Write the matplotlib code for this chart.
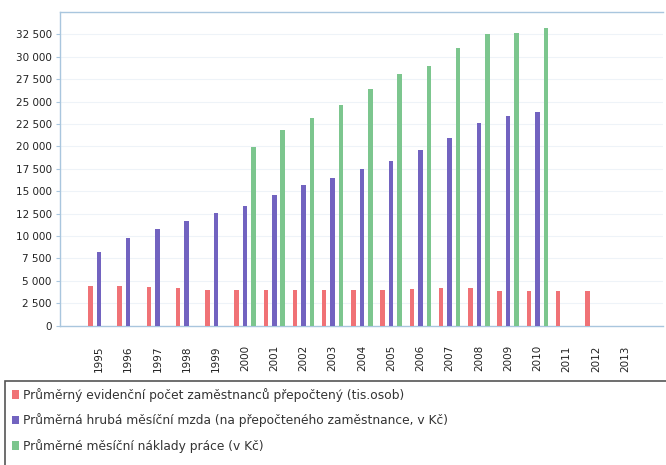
import numpy as np
import matplotlib
matplotlib.use("Agg")
import matplotlib.pyplot as plt
from matplotlib.ticker import FuncFormatter
from matplotlib.patches import Rectangle

years = [str(y) for y in range(1995, 2014)]
nan = np.nan
employees = [4430, 4430, 4290, 4180, 3990, 3980, 3970, 3960, 3960, 3970, 3980, 4060, 4170, 4240,
             3880, 3870, 3870, 3870, nan]
wage = [8260, 9750, 10760, 11720, 12610, 13360, 14590, 15670, 16430, 17470, 18340, 19550,
        20960, 22590, 23400, 23880, nan, nan, nan]
labour_cost = [nan, nan, nan, nan, nan, 19980, 21840, 23210, 24630, 26380, 28090, 28980,
               31030, 32560, 32700, 33260, nan, nan, nan]
labels = ["Průměrný evidenční počet zaměstnanců přepočtený (tis.osob)",
          "Průměrná hrubá měsíční mzda (na přepočteného zaměstnance, v Kč)",
          "Průměrné měsíční náklady práce (v Kč)"]
colors = ["#f07276", "#7263c0", "#7cc68e"]

fig = plt.figure(figsize=(6.66, 4.65), dpi=100)
ax = fig.add_axes([60/666, 1-325.7/465, (663-60)/666, (325.7-12)/465])

x = np.arange(len(years))
w = 0.155
off = 0.29
handles = []
for i, (vals, c) in enumerate(zip([employees, wage, labour_cost], colors)):
    b = ax.bar(x + (i-1)*off, vals, width=w, color=c, edgecolor="none", zorder=3)
    handles.append(b)

ax.set_xlim(-1.33, len(years) - 1 + 1.3)
ax.set_ylim(0, 35000)
ax.set_yticks(np.arange(0, 32501, 2500))
ax.yaxis.set_major_formatter(FuncFormatter(lambda v, p: f"{int(v):,}".replace(",", " ")))
ax.set_xticks(x)
ax.set_xticklabels(years, rotation=90, fontsize=7.5, color="#222222")
ax.tick_params(axis="x", length=0, pad=14)
ax.tick_params(axis="y", length=3, color="#a9c6de", labelsize=7.5, labelcolor="#222222", pad=3)
for yv in np.arange(2500, 35001, 2500):
    ax.axhline(yv, color="#eef3f8", lw=0.8, zorder=1)
for s in ["left", "bottom", "top"]:
    ax.spines[s].set_color("#a9c6de")
    ax.spines[s].set_linewidth(1)
ax.spines["right"].set_visible(False)

# legend box (extends past the bottom/right edge, as in the reference)
top = 1 - 381/465
fig.patches.append(Rectangle((5/666, -0.1), 1.0, top + 0.1, transform=fig.transFigure,
                             facecolor="white", edgecolor="#555555", lw=1.2, zorder=0))
leg = fig.legend(handles, labels, loc="upper left",
                 bbox_to_anchor=(5/666, top), fontsize=8.8, frameon=False,
                 handlelength=0.6, handleheight=0.7, handletextpad=0.3, labelspacing=0.95,
                 borderpad=0.55, borderaxespad=0)
for t in leg.get_texts():
    t.set_color("#333333")

fig.savefig("out.png", dpi=100)
